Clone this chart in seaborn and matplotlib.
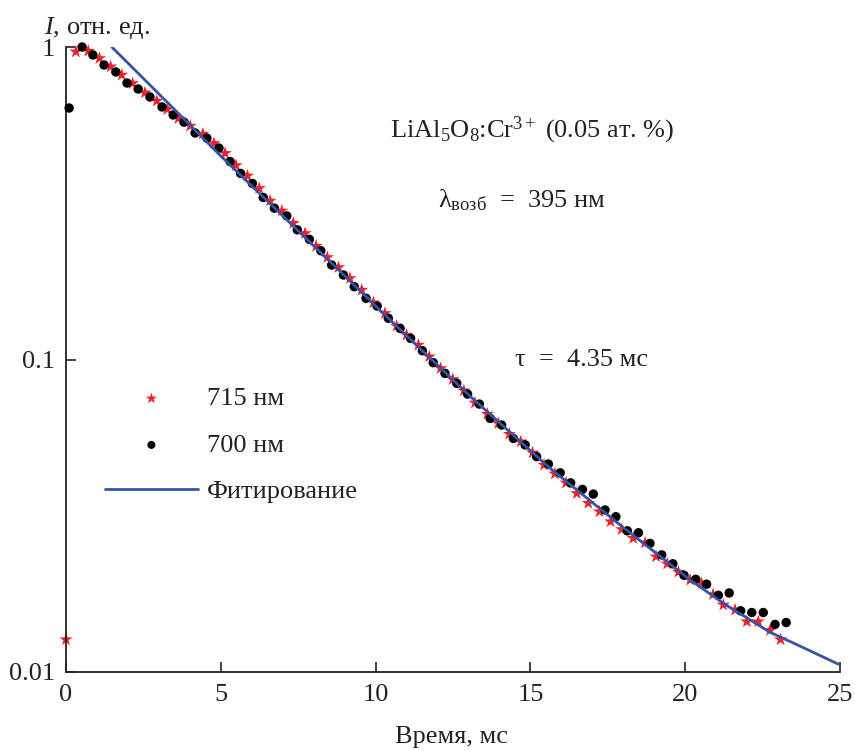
import matplotlib
matplotlib.use("Agg")
import matplotlib.pyplot as plt
import matplotlib.ticker as mticker
import seaborn as sns
import pandas as pd

# ---- data ----
t_715 = [0.00, 0.32, 0.72, 1.08, 1.44, 1.80, 2.15, 2.55, 2.93, 3.27, 3.63, 4.01, 4.42, 4.78,
         5.14, 5.49, 5.86, 6.24, 6.59, 6.97, 7.34, 7.72, 8.08, 8.44, 8.80, 9.17, 9.55, 9.93,
         10.30, 10.68, 11.00, 11.38, 11.73, 12.10, 12.49, 12.85, 13.21, 13.61, 13.96, 14.32,
         14.69, 15.07, 15.44, 15.79, 16.15, 16.50, 16.87, 17.23, 17.59, 17.95, 18.32, 18.70,
         19.06, 19.42, 19.78, 20.16, 20.53, 20.90, 21.23, 21.61, 21.99, 22.36, 22.74, 23.08]
I_715 = [0.0127, 0.966, 0.971, 0.920, 0.865, 0.814, 0.765, 0.714, 0.672, 0.632, 0.591, 0.559,
         0.527, 0.492, 0.457, 0.418, 0.387, 0.353, 0.322, 0.299, 0.273, 0.2533, 0.2307, 0.2123,
         0.1972, 0.1819, 0.1669, 0.1520, 0.1405, 0.1280, 0.1198, 0.1113, 0.1021, 0.0937, 0.0864,
         0.0795, 0.0727, 0.0669, 0.0625, 0.0577, 0.0546, 0.0503, 0.0460, 0.0431, 0.0403, 0.0373,
         0.0347, 0.0326, 0.0303, 0.0286, 0.0268, 0.0259, 0.0234, 0.0222, 0.0209, 0.0197, 0.0192,
         0.0177, 0.0164, 0.0158, 0.0145, 0.0145, 0.0136, 0.0127]

t_700 = [0.10, 0.52, 0.87, 1.23, 1.61, 1.97, 2.33, 2.71, 3.10, 3.46, 3.81, 4.17, 4.55, 4.94,
         5.30, 5.64, 6.02, 6.37, 6.73, 7.13, 7.47, 7.86, 8.23, 8.58, 8.96, 9.31, 9.69, 10.05,
         10.41, 10.79, 11.13, 11.51, 11.86, 12.24, 12.62, 12.97, 13.35, 13.70, 14.07, 14.45,
         14.83, 15.20, 15.58, 15.96, 16.30, 16.68, 17.03, 17.41, 17.76, 18.13, 18.49, 18.86,
         19.24, 19.60, 19.96, 20.34, 20.69, 21.07, 21.42, 21.79, 22.15, 22.52, 22.90, 23.26]
I_700 = [0.638, 1.0, 0.943, 0.876, 0.832, 0.767, 0.734, 0.692, 0.643, 0.606, 0.575, 0.531,
         0.511, 0.475, 0.430, 0.394, 0.366, 0.330, 0.305, 0.288, 0.260, 0.2424, 0.2229, 0.2006,
         0.1864, 0.171, 0.157, 0.1483, 0.1355, 0.1258, 0.1169, 0.1067, 0.0977, 0.0903, 0.0839,
         0.0775, 0.0720, 0.0648, 0.0617, 0.0559, 0.0533, 0.0489, 0.0463, 0.0434, 0.0403, 0.0384,
         0.0371, 0.0330, 0.0314, 0.0283, 0.0279, 0.0258, 0.0237, 0.0222, 0.0204, 0.0198, 0.0191,
         0.0176, 0.0179, 0.0157, 0.0155, 0.0155, 0.0142, 0.0144]

t_fit = [1.48, 3.36, 4.97, 7.70, 10.47, 13.10, 15.63, 18.00, 20.16, 21.23, 22.74, 23.71, 24.94]
I_fit = [1.0, 0.652, 0.451, 0.247, 0.1338, 0.0755, 0.0449, 0.029, 0.0197, 0.0166, 0.0134,
         0.0121, 0.0106]

x_ticks = [0, 5, 10, 15, 20, 25]
y_ticks = [0.01, 0.1, 1]
y_tick_labels = ["0.01", "0.1", "1"]

label_715 = "715 нм"
label_700 = "700 нм"
label_fit = "Фитирование"

# ---- style ----
sns.set_theme(style="white")
plt.rcParams["font.family"] = ["Liberation Serif", "DejaVu Serif"]
plt.rcParams["mathtext.fontset"] = "custom"
plt.rcParams["mathtext.rm"] = "Liberation Serif"
plt.rcParams["mathtext.it"] = "Liberation Serif:italic"
plt.rcParams["mathtext.bf"] = "Liberation Serif:bold"

FS = 19
TC = "#222222"
fig = plt.figure(figsize=(8.55, 7.51), dpi=100)
ax = fig.add_axes([0.0772, 0.1052, 0.9053, 0.8322])

df715 = pd.DataFrame({"t": t_715, "I": I_715})
df700 = pd.DataFrame({"t": t_700, "I": I_700})
dffit = pd.DataFrame({"t": t_fit, "I": I_fit})

sns.scatterplot(data=df715, x="t", y="I", ax=ax, marker="*", s=100, color="#EE2228",
                edgecolor="none", linewidth=0, label=label_715, zorder=2, clip_on=False)
sns.scatterplot(data=df700, x="t", y="I", ax=ax, marker="o", s=46, color="black",
                edgecolor="none", linewidth=0, label=label_700, zorder=3, clip_on=False)
sns.lineplot(data=dffit, x="t", y="I", ax=ax, color="#3752A6", linewidth=2.0,
             label=label_fit, zorder=4, sort=False, estimator=None)

ax.set_yscale("log")
ax.set_xlim(0, 25)
ax.set_ylim(0.01, 1)
ax.set_xticks(x_ticks)
ax.set_xticklabels([str(v) for v in x_ticks])
ax.yaxis.set_major_locator(mticker.FixedLocator(y_ticks))
ax.yaxis.set_major_formatter(mticker.FixedFormatter(y_tick_labels))
ax.yaxis.set_minor_locator(mticker.LogLocator(base=10, subs=range(2, 10)))
ax.yaxis.set_minor_formatter(mticker.NullFormatter())
ax.xaxis.set_minor_locator(mticker.NullLocator())

for s in ["top", "right"]:
    ax.spines[s].set_visible(False)
for s in ["left", "bottom"]:
    ax.spines[s].set_color(TC)
    ax.spines[s].set_linewidth(1.3)

ax.tick_params(axis="both", which="major", direction="in", length=7, width=1.2,
               color=TC, labelsize=FS, labelcolor=TC)
ax.tick_params(axis="x", which="major", pad=9)
ax.tick_params(axis="y", which="major", pad=8)
ax.tick_params(axis="y", which="minor", direction="in", length=5, width=1.1, color=TC)
ax.tick_params(left=True, bottom=True)

ax.set_xlabel("")
ax.set_ylabel("")
fig.text(0.5275, 0.019, "Время, мс", ha="center", va="center", fontsize=FS, color=TC)
fig.text(0.052, 0.963, "$I$, отн. ед.", ha="left", va="center", fontsize=FS, color=TC)

ax.text(0.602, 0.867, r"LiAl$_5$O$_8$:Cr$^{3+}$ (0.05 ат. %)", transform=ax.transAxes,
        ha="center", va="center", fontsize=FS, color=TC)
ax.text(0.589, 0.755, r"λ$_{\mathrm{возб}}$  =  395 нм", transform=ax.transAxes,
        ha="center", va="center", fontsize=FS, color=TC)
ax.text(0.666, 0.499, "τ  =  4.35 мс", transform=ax.transAxes,
        ha="center", va="center", fontsize=FS, color=TC)

leg = ax.legend(loc="upper left", bbox_to_anchor=(0.037, 0.473), frameon=False,
                fontsize=FS, handlelength=3.5, handletextpad=0.35, labelspacing=0.87,
                markerscale=0.85, borderaxespad=0)
for txt in leg.get_texts():
    txt.set_color(TC)

fig.savefig("out.png", dpi=100)
